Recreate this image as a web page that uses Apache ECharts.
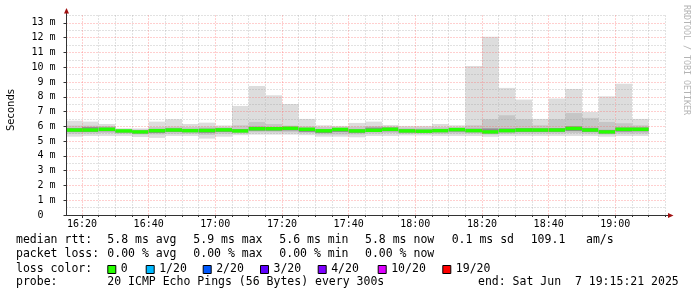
<!DOCTYPE html>
<html><head><meta charset="utf-8">
<script src="https://cdn.jsdelivr.net/npm/echarts@6/dist/echarts.min.js"></script>
<style>html,body{margin:0;padding:0;background:#fff}#c{width:697px;height:297px}</style>
</head><body><div id="c"></div>
<script>
// ---- data (milliseconds) ----
const barTimes = ['16:15','16:20','16:25','16:30','16:35','16:40','16:45','16:50','16:55','17:00',
  '17:05','17:10','17:15','17:20','17:25','17:30','17:35','17:40','17:45','17:50',
  '17:55','18:00','18:05','18:10','18:15','18:20','18:25','18:30','18:35','18:40',
  '18:45','18:50','18:55','19:00','19:05'];
const pMax    = [6.38,6.32,6.16,5.87,5.86,6.32,6.48,6.16,6.25,6.06, 7.38,8.73,8.10,7.51,6.50,6.07,6.03,6.23,6.32,6.09, 6.03,6.03,6.16,6.07,10.09,12.07,8.60,7.81,6.50,7.88, 8.53,6.97,8.03,8.89,6.50];
const pHi     = [6.05,6.05,6.02,5.80,5.78,5.95,5.98,5.95,5.98,5.95, 6.07,6.30,6.16,6.05,6.00,5.95,5.95,5.98,6.02,5.98, 5.92,5.92,5.95,5.95,6.07,6.48,6.75,6.48,6.07,6.48, 6.90,6.57,6.30,6.21,6.07];
const pCoreHi = [5.88,5.95,5.92,5.76,5.72,5.82,5.86,5.82,5.84,5.86, 5.82,5.98,5.96,5.97,5.90,5.80,5.88,5.80,5.92,5.92, 5.80,5.78,5.82,5.88,5.84,5.86,5.86,5.88,5.86,5.88, 6.00,5.90,5.76,5.92,5.92];
const pMedian = [5.75,5.75,5.80,5.69,5.62,5.71,5.75,5.71,5.72,5.76, 5.69,5.84,5.84,5.87,5.80,5.70,5.79,5.69,5.73,5.80, 5.69,5.67,5.71,5.78,5.71,5.62,5.71,5.75,5.75,5.75, 5.86,5.75,5.62,5.80,5.80];
const pCoreLo = [5.62,5.62,5.66,5.58,5.52,5.55,5.62,5.60,5.56,5.62, 5.60,5.70,5.70,5.72,5.62,5.55,5.62,5.56,5.62,5.66, 5.58,5.58,5.60,5.64,5.60,5.52,5.60,5.62,5.62,5.62, 5.68,5.62,5.52,5.64,5.66];
const pLo     = [5.50,5.52,5.55,5.50,5.45,5.45,5.50,5.50,5.42,5.50, 5.52,5.60,5.60,5.60,5.55,5.45,5.45,5.45,5.52,5.55, 5.50,5.50,5.50,5.52,5.52,5.45,5.50,5.52,5.52,5.52, 5.55,5.52,5.45,5.52,5.52];
const pMin    = [5.30,5.35,5.35,5.35,5.28,5.22,5.35,5.35,5.17,5.30, 5.40,5.44,5.44,5.44,5.40,5.30,5.30,5.26,5.35,5.35, 5.38,5.38,5.35,5.35,5.35,5.30,5.35,5.35,5.35,5.35, 5.35,5.35,5.30,5.35,5.35];
const xTickLabels = ['16:20','16:40','17:00','17:20','17:40','18:00','18:20','18:40','19:00'];
const yTickValues = [0,1,2,3,4,5,6,7,8,9,10,11,12,13];
const lossLabels = ['0','1/20','2/20','3/20','4/20','10/20','19/20'];
const lossColors = ['#26ff00','#00b8ff','#0059ff','#5e00ff','#7e00ff','#dd00ff','#ff0000'];
const startTime = '16:15:21', endTime = '19:15:21';
const stepMin = 5;

const toMin = s => { const p = s.split(':').map(Number); return p[0]*60 + p[1] + (p[2]||0)/60; };
const fmtHM = v => { const h = Math.floor(v/60), m = Math.round(v - h*60); return h + ':' + String(m).padStart(2,'0'); };
const xMin = toMin(startTime), xMax = toMin(endTime);
const majorVals = xTickLabels.map(toMin);
const minorVals = [];
for (let v = Math.ceil(xMin/stepMin)*stepMin; v <= xMax; v += stepMin) if (majorVals.indexOf(v) < 0) minorVals.push(v);

const seriesData = barTimes.map((t,i) => [toMin(t), pMin[i], pLo[i], pCoreLo[i], pMedian[i], pCoreHi[i], pHi[i], pMax[i]]);

const MONO = "'DejaVu Sans Mono', monospace";
const RED = 'rgba(255,95,95,0.6)', GRAY = 'rgba(150,150,150,0.55)';
const DASH = [1,2];

const chart = echarts.init(document.getElementById('c'), null, {renderer:'canvas'});

function txt(x, y, s, extra) {
  return Object.assign({type:'text', x:x, y:y, z:10, style:{text:s, font:"11.5px " + MONO, fill:'#000', textVerticalAlign:'middle'}}, extra||{});
}
const graphics = [];
const L1 = 240.5, L2 = 254.5, L3 = 268.8, L4 = 282.5;
[[16,'median rtt:'],[107.3,'5.8 ms avg'],[193.3,'5.9 ms max'],[279.3,'5.6 ms min'],[365,'5.8 ms now'],[451.7,'0.1 ms sd'],[530.7,'109.1'],[586,'am/s']]
  .forEach(a => graphics.push(txt(a[0], L1, a[1])));
[[16,'packet loss:'],[107.3,'0.00 % avg'],[193.3,'0.00 % max'],[279.3,'0.00 % min'],[365,'0.00 % now']]
  .forEach(a => graphics.push(txt(a[0], L2, a[1])));
graphics.push(txt(16, L3, 'loss color:'));
const sqX = [107.3,145.7,202.7,260,317.7,377.7,442.3];
lossLabels.forEach((lab,i) => {
  graphics.push({type:'rect', z:10, shape:{x:sqX[i]+0.5, y:265.5, width:8, height:8}, style:{fill:lossColors[i], stroke:'#000', lineWidth:1}});
  graphics.push(txt(sqX[i]+13.5, L3, lab));
});
graphics.push(txt(16, L4, 'probe:'));
graphics.push(txt(107.3, L4, '20 ICMP Echo Pings (56 Bytes) every 300s'));
graphics.push(txt(478, L4, 'end: Sat Jun  7 19:15:21 2025'));
// y-axis title
graphics.push({type:'text', x:11, y:110, rotation:Math.PI/2, z:10,
  style:{text:'Seconds', font:"10px 'DejaVu Sans', sans-serif", fill:'#000', textAlign:'center', textVerticalAlign:'middle'}});
// watermark
graphics.push({type:'text', x:686, y:60, rotation:-Math.PI/2, z:10,
  style:{text:'RRDTOOL / TOBI OETIKER', font:"8.3px " + MONO, fill:'#b4b4b4', textAlign:'center', textVerticalAlign:'middle'}});
// axis extensions + arrows
graphics.push({type:'line', z:10, shape:{x1:66.5, y1:11, x2:66.5, y2:16}, style:{stroke:'#333', lineWidth:1}});
graphics.push({type:'line', z:10, shape:{x1:666, y1:215.5, x2:669, y2:215.5}, style:{stroke:'#333', lineWidth:1}});
graphics.push({type:'polygon', z:11, shape:{points:[[64,13.5],[66.5,8],[69,13.5]]}, style:{fill:'#a01010'}});
graphics.push({type:'polygon', z:11, shape:{points:[[668,213],[673.5,215.5],[668,218]]}, style:{fill:'#a01010'}});

const option = {
  backgroundColor:'#fff',
  animation:false,
  grid:{left:66.5, right:30.5, top:15.5, bottom:82, containLabel:false},
  xAxis:[
    {type:'value', min:xMin, max:xMax, z:5,
      axisLine:{show:true, onZero:false, lineStyle:{color:'#333', width:1}},
      axisTick:{show:true, length:3, customValues:majorVals, lineStyle:{color:'#333'}},
      axisLabel:{show:true, customValues:majorVals, formatter:v => fmtHM(v), margin:4, color:'#000', fontFamily:MONO, fontSize:10},
      splitLine:{show:true, lineStyle:{color:RED, type:DASH, width:1}}
    },
    {type:'value', min:xMin, max:xMax, z:4, position:'bottom',
      axisLine:{show:false}, axisLabel:{show:false},
      axisTick:{show:true, length:2, customValues:minorVals, lineStyle:{color:'#333'}},
      splitLine:{show:true, lineStyle:{color:GRAY, type:DASH, width:1}}
    }
  ],
  yAxis:[
    {type:'value', min:0, max:13.5, z:5,
      axisLine:{show:true, onZero:false, lineStyle:{color:'#333', width:1}},
      axisTick:{show:true, length:3, customValues:yTickValues, lineStyle:{color:'#333'}},
      axisLabel:{show:true, customValues:yTickValues, formatter:v => v === 0 ? '0  ' : (v + ' m'), margin:11, color:'#000', fontFamily:MONO, fontSize:10},
      splitLine:{show:true, showMinLine:false, lineStyle:{color:RED, type:DASH, width:1}}
    },
    {type:'value', min:0, max:13.5, interval:0.5, z:4, position:'left',
      axisLine:{show:false}, axisLabel:{show:false}, axisTick:{show:false},
      splitLine:{show:true, lineStyle:{color:['rgba(0,0,0,0)', GRAY], type:DASH, width:1}}
    }
  ],
  series:[{
    type:'custom', xAxisIndex:0, yAxisIndex:0, z:2,
    data:seriesData,
    encode:{x:0, y:[1,7]},
    renderItem:function(params, api){
      const t = api.value(0);
      const x0 = api.coord([t, 0])[0], x1 = api.coord([t + stepMin, 0])[0];
      const cs = params.coordSys;
      const clipR = {x:cs.x, y:cs.y, width:cs.width, height:cs.height};
      const rect = (yTop, yBot, color) => {
        const r = echarts.graphic.clipRectByRect({x:x0, y:yTop, width:x1-x0, height:yBot-yTop}, clipR);
        return r ? {type:'rect', shape:r, style:{fill:color}} : {type:'group', children:[]};
      };
      const band = (lo, hi, color) => rect(api.coord([t, api.value(hi)])[1], api.coord([t, api.value(lo)])[1], color);
      const ym = api.coord([t, api.value(4)])[1];
      return {type:'group', children:[
        band(1, 7, '#dddddd'),
        band(2, 6, '#c6c6c6'),
        band(3, 5, '#8e8e8e'),
        rect(ym - 1.7, ym + 1.7, lossColors[0])
      ]};
    }
  }],
  graphic:graphics
};
chart.setOption(option);
</script></body></html>
